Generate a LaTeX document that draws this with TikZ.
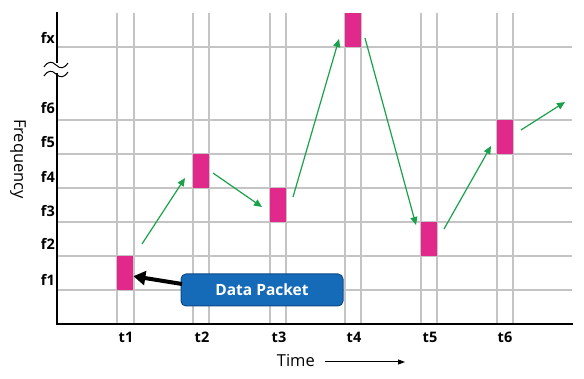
\documentclass[tikz,border=0pt]{standalone}
\usepackage{fontspec}
\setmainfont{Open Sans}
\usetikzlibrary{arrows.meta}
\definecolor{pk}{HTML}{E0298A}
\definecolor{gridc}{HTML}{C4C4C4}
\definecolor{grn}{HTML}{1BA14B}
\definecolor{bfill}{HTML}{166BB8}
\definecolor{bdraw}{HTML}{0E4A8A}
\tikzset{
  gridline/.style={draw=gridc, line width=1.5pt},
  axisline/.style={draw=black, line width=2.8pt},
  packet/.style={fill=pk, draw=none, minimum width=16pt, minimum height=34pt, inner sep=0pt, anchor=north west},
  flbl/.style={font=\bfseries\fontsize{14.5}{16}\selectfont, anchor=east, inner sep=0pt},
  tlbl/.style={font=\bfseries\fontsize{14.5}{16}\selectfont, inner sep=0pt},
  hop/.style={draw=grn, line width=1.2pt, -{Triangle[length=8pt,width=7pt]}},
  callout/.style={fill=bfill, draw=bdraw, line width=1pt, rounded corners=5pt, minimum width=162pt, minimum height=32pt, text=white, font=\bfseries\fontsize{15.5}{17}\selectfont},
  brk/.style={draw=black, line width=1pt}
}
\begin{document}
\begin{tikzpicture}[x=1pt,y=-1pt]
\useasboundingbox (0,0) rectangle (584,379);
% horizontal grid
\foreach \y in {47,120,154,188,222,256,290} \draw[gridline] (57,\y) -- (572,\y);
% vertical grid
\foreach \x in {117,134,193,209,270,286,345,361,421,437,497,513} \draw[gridline] (\x,13) -- (\x,324);
% packets
\node[packet] (p1) at (117,256) {};
\node[packet] (p2) at (193,154) {};
\node[packet] (p3) at (270,188) {};
\node[packet] (p4) at (345,13) {};
\node[packet] (p5) at (421,222) {};
\node[packet] (p6) at (497,120) {};
% axes
\draw[axisline] (57,12) -- (57,63);
\draw[axisline] (57,73) -- (57,324) -- (573,324);
\draw[brk] (44,67) .. controls (48,61) and (52,61) .. (56,65) .. controls (60,69) and (64,69) .. (68,63);
\draw[brk] (44,76) .. controls (48,70) and (52,70) .. (56,74) .. controls (60,78) and (64,78) .. (68,72);
% frequency labels
\node[flbl] (lfx) at (55,38) {fx};
\node[flbl] (lf6) at (55,108) {f6};
\node[flbl] (lf5) at (55,142) {f5};
\node[flbl] (lf4) at (55,177) {f4};
\node[flbl] (lf3) at (55,211) {f3};
\node[flbl] (lf2) at (55,244) {f2};
\node[flbl] (lf1) at (55,280) {f1};
% time labels
\node[tlbl] (lt1) at (126,337) {t1};
\node[tlbl] (lt2) at (202,337) {t2};
\node[tlbl] (lt3) at (279,337) {t3};
\node[tlbl] (lt4) at (354,337) {t4};
\node[tlbl] (lt5) at (430,337) {t5};
\node[tlbl] (lt6) at (505,337) {t6};
% axis titles
\node[rotate=-90, font=\fontsize{16.5}{18}\selectfont, inner sep=0pt] (freq) at (18,159) {Frequency};
\node[font=\fontsize{16.5}{18}\selectfont, inner sep=0pt, anchor=east] (time) at (315,361) {Time};
\coordinate (ta) at (325,362);
\coordinate (tb) at (405,362);
\draw[line width=1pt, -{Triangle[length=7pt,width=5pt]}] (ta) -- (tb);
% hops
\coordinate (h1s) at (142,244); \coordinate (h1e) at (185,178);
\coordinate (h2s) at (213,173); \coordinate (h2e) at (262,207);
\coordinate (h3s) at (293,197); \coordinate (h3e) at (339,39);
\coordinate (h4s) at (365,38); \coordinate (h4e) at (416,225);
\coordinate (h5s) at (444,229); \coordinate (h5e) at (491,146);
\coordinate (h6s) at (521,130); \coordinate (h6e) at (565,102);
\foreach \i in {1,...,6} \draw[hop] (h\i s) -- (h\i e);
% callout
\node[callout] (dp) at (262,290) {Data Packet};
\coordinate (dps) at (182,284);
\draw[line width=4pt, -{Triangle[length=12pt,width=14pt]}] (dps) -- (p1.-20);
\end{tikzpicture}
\end{document}
